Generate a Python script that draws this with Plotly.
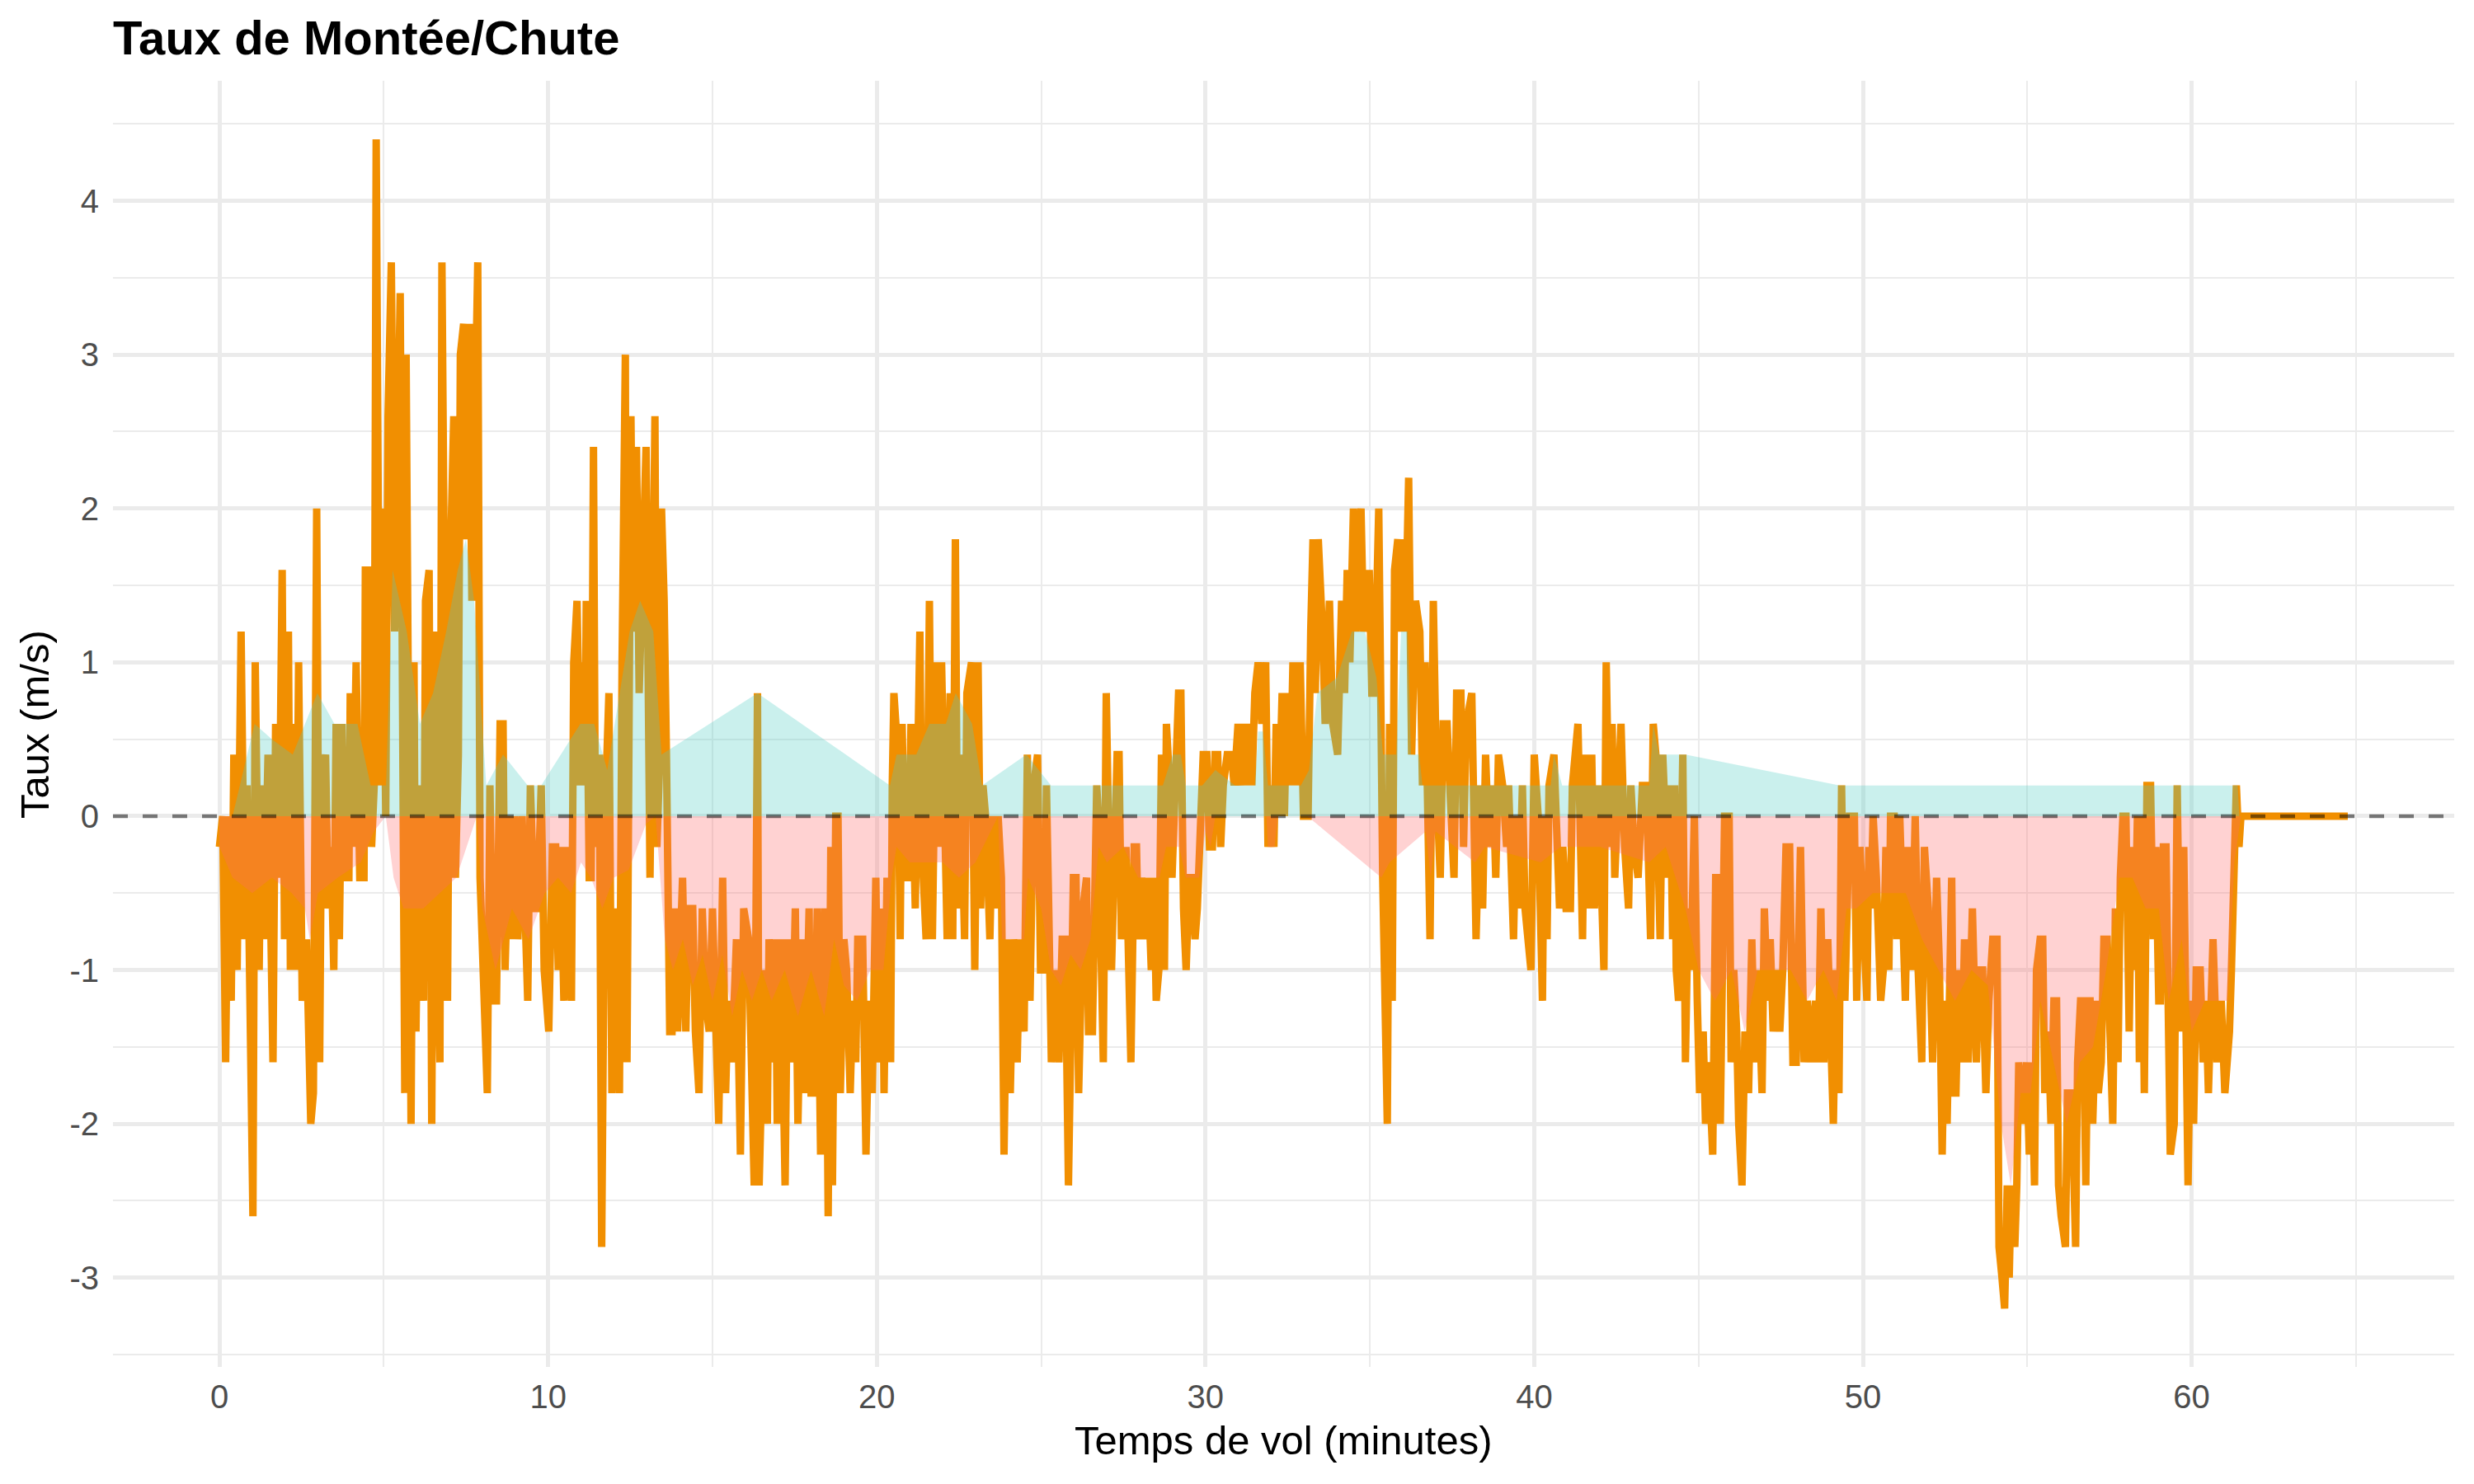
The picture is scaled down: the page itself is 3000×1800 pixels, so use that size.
import plotly.graph_objects as go

# ---- Data (time in minutes, climb/sink rate in m/s) ----
seg_00_10 = [
    (0.00, -0.2), (0.10, 0.0), (0.19, -1.6), (0.27, 0.0), (0.36, -1.2), (0.44, 0.4), (0.54, -1.0), (0.66, 1.2), (0.77, -0.8), (0.84, 0.2),
    (1.02, -2.6), (1.09, 1.0), (1.21, -1.0), (1.27, 0.2), (1.36, -0.8), (1.48, 0.4), (1.63, -1.6), (1.71, 0.6), (1.81, -0.4), (1.91, 1.6),
    (1.98, -0.8), (2.10, 1.2), (2.16, -1.0), (2.23, 0.6), (2.33, -1.0), (2.41, 1.0), (2.52, -1.2), (2.65, -0.8), (2.78, -2.0), (2.86, -1.8),
    (2.96, 2.0), (3.05, -1.6), (3.11, 0.2), (3.23, 0.4), (3.31, -0.6), (3.40, -0.2), (3.48, -1.0), (3.55, 0.6), (3.65, -0.8), (3.73, 0.6),
    (3.81, -0.4), (3.94, -0.4), (3.98, 0.8), (4.06, -0.2), (4.16, 1.0), (4.27, -0.4), (4.40, -0.4), (4.44, 1.6), (4.52, 1.6), (4.63, -0.2),
    (4.71, 0.2), (4.77, 4.4), (4.88, 0.2), (4.96, 2.0), (5.06, 0.0), (5.13, 2.6), (5.23, 3.6), (5.33, 1.2), (5.50, 3.4), (5.58, -0.8),
    (5.64, -1.8), (5.68, 3.0), (5.83, -2.0), (5.92, 1.0), (5.98, -1.4), (6.08, 0.2), (6.21, -1.2), (6.27, 1.4), (6.38, 1.6), (6.46, -2.0),
    (6.54, 1.2), (6.61, -0.6), (6.71, -1.6), (6.77, 3.6), (6.88, 0.2), (6.94, -1.2), (7.02, 1.6), (7.13, 2.6), (7.18, -0.4), (7.27, 0.4),
    (7.33, 3.0), (7.43, 3.2), (7.52, 1.8), (7.60, 3.2), (7.68, 1.4), (7.86, 3.6), (7.93, -0.4), (8.02, -1.0), (8.15, -1.8), (8.23, 0.2),
    (8.33, -1.2), (8.43, -1.2), (8.54, 0.6), (8.63, 0.6), (8.69, -1.0), (8.82, 0.0), (8.92, -0.8), (8.98, 0.0), (9.08, -0.8), (9.21, 0.0),
    (9.38, -1.2), (9.46, 0.2), (9.58, -0.6), (9.68, -0.6), (9.79, 0.2), (9.88, -1.0),
]

seg_10_20 = [
    (10.02, -1.4), (10.13, -0.2), (10.23, -0.2), (10.31, -1.0), (10.38, -0.2), (10.48, -1.2), (10.58, -0.2), (10.71, -1.2), (10.78, 1.0), (10.88, 1.4),
    (10.98, 0.2), (11.06, 1.0), (11.12, 0.2), (11.16, 1.4), (11.25, -0.4), (11.31, -0.4), (11.38, 2.4), (11.44, -0.2), (11.56, 0.4), (11.63, -2.8),
    (11.73, 0.0), (11.85, 0.8), (11.94, -1.8), (12.06, -0.6), (12.17, -1.8), (12.25, 1.0), (12.35, 3.0), (12.40, -1.6), (12.48, 1.2), (12.52, 2.6),
    (12.58, 1.2), (12.69, 2.4), (12.77, 0.8), (12.98, 2.4), (13.10, -0.4), (13.25, 2.6), (13.31, -0.2), (13.40, 0.4), (13.45, 2.0), (13.53, 1.4),
    (13.60, 0.4), (13.70, -1.4), (13.77, -1.4), (13.84, -0.6), (13.94, -1.4), (14.09, -0.4), (14.19, -1.4), (14.27, -0.6), (14.40, -0.6), (14.48, -1.4),
    (14.59, -1.8), (14.69, -0.6), (14.79, -1.2), (14.90, -1.4), (15.00, -0.6), (15.10, -1.6), (15.19, -2.0), (15.31, -0.4), (15.40, -1.8), (15.48, -1.2),
    (15.59, -1.6), (15.73, -0.8), (15.85, -2.2), (15.95, -0.6), (16.10, -0.8), (16.27, -2.4), (16.37, 0.8), (16.42, -2.4), (16.58, -1.0), (16.67, -2.0),
    (16.72, -0.8), (16.83, -1.6), (16.92, -0.8), (16.97, -2.0), (17.08, -0.8), (17.21, -2.4), (17.29, -0.8), (17.42, -1.6), (17.52, -0.6), (17.60, -2.0),
    (17.71, -0.8), (17.81, -1.8), (17.94, -0.6), (18.00, -1.8), (18.08, -1.8), (18.19, -0.6), (18.29, -2.2), (18.42, -0.6), (18.47, -1.2), (18.52, -2.6),
    (18.60, -0.2), (18.65, -2.4), (18.75, 0.0), (18.82, 0.0), (18.89, -1.8), (19.00, -0.8), (19.08, -1.0), (19.19, -1.8), (19.27, -1.2), (19.36, -1.6),
    (19.42, -0.8), (19.57, -0.8), (19.67, -2.2), (19.77, -1.2), (19.86, -1.8), (19.97, -0.4),
]

seg_20_30 = [
    (20.04, -1.6), (20.17, -0.6), (20.22, -1.8), (20.31, -0.4), (20.42, -1.6), (20.47, 0.2), (20.52, 0.8), (20.64, 0.4), (20.71, -0.8), (20.77, 0.6), (20.86, -0.4),
    (20.96, -0.4), (21.04, 0.6), (21.17, -0.6), (21.31, 1.2), (21.37, -0.2), (21.50, -0.8), (21.60, 1.4), (21.69, -0.8), (21.81, 1.0), (21.89, -0.2),
    (21.97, 1.0), (22.14, -0.8), (22.23, 0.8), (22.31, -0.8), (22.39, 1.8), (22.46, -0.6), (22.54, 0.4), (22.60, -0.4), (22.67, -0.8), (22.74, 0.8),
    (22.88, 1.0), (22.98, -1.0), (23.08, 1.0), (23.16, -0.6), (23.23, 0.2), (23.31, 0.0), (23.44, -0.8), (23.52, 0.0), (23.60, -0.6), (23.69, 0.0),
    (23.79, -0.4), (23.87, -2.2), (23.96, -0.8), (24.06, -1.8), (24.16, -0.8), (24.27, -1.6), (24.35, -0.8), (24.48, -1.4), (24.58, 0.4), (24.66, -1.2),
    (24.77, 0.2), (24.89, 0.4), (24.98, -1.0), (25.10, -1.0), (25.16, 0.2), (25.23, -0.6), (25.31, -1.6), (25.44, -1.0), (25.54, -1.6), (25.64, -0.8),
    (25.73, -0.8), (25.83, -2.4), (25.98, -0.4), (26.06, -0.4), (26.14, -1.8), (26.27, -0.6), (26.38, -0.4), (26.44, -1.4), (26.56, -1.4), (26.69, 0.2),
    (26.74, 0.0), (26.89, -1.6), (26.98, 0.8), (27.06, -0.2), (27.14, -1.0), (27.31, 0.4), (27.37, 0.4), (27.44, -0.8), (27.52, -0.6), (27.58, -0.2),
    (27.73, -1.6), (27.83, -0.2), (27.90, -0.2), (27.96, -0.8), (28.06, -0.4), (28.16, -0.8), (28.25, -0.4), (28.35, -1.0), (28.43, -0.4), (28.50, -1.2),
    (28.58, -1.0), (28.66, 0.4), (28.75, -1.0), (28.81, 0.6), (28.91, 0.2), (28.98, -0.4), (29.08, 0.2), (29.18, 0.8), (29.25, 0.8), (29.33, -0.6),
    (29.41, -1.0), (29.50, -0.4), (29.58, -0.4), (29.68, -0.8), (29.75, -0.6), (29.83, -0.2), (29.93, 0.4),
]

seg_30_40 = [
    (30.04, 0.4), (30.12, -0.2), (30.21, -0.2), (30.29, 0.4), (30.37, 0.4), (30.46, -0.2), (30.54, 0.2), (30.66, 0.4), (30.79, 0.4), (30.87, 0.2),
    (30.99, 0.6), (31.09, 0.2), (31.18, 0.6), (31.26, 0.2), (31.33, 0.6), (31.41, 0.2), (31.50, 0.8), (31.60, 1.0), (31.71, 0.6), (31.83, 1.0),
    (31.90, -0.2), (32.00, 0.2), (32.08, -0.2), (32.15, 0.6), (32.23, 0.0), (32.33, 0.8), (32.40, 0.0), (32.48, 0.8), (32.58, 0.2), (32.66, 1.0),
    (32.75, 0.2), (32.88, 1.0), (32.98, 0.0), (33.12, 0.0), (33.20, 1.2), (33.27, 1.8), (33.34, 0.8), (33.43, 1.8), (33.56, 1.2), (33.64, 0.6),
    (33.77, 1.4), (33.87, 0.6), (34.02, 0.4), (34.14, 1.4), (34.23, 0.8), (34.31, 1.6), (34.39, 1.0), (34.50, 2.0), (34.58, 1.2), (34.73, 2.0),
    (34.81, 1.2), (34.98, 1.6), (35.06, 0.8), (35.14, 0.8), (35.27, 2.0), (35.39, -0.4), (35.53, -2.0), (35.60, 0.6), (35.68, -1.2), (35.75, 1.6),
    (35.85, 1.8), (35.93, 1.2), (36.02, 1.8), (36.08, 1.2), (36.18, 2.2), (36.27, 0.4), (36.39, 1.4), (36.52, 1.2), (36.60, 0.2), (36.68, 1.0),
    (36.83, -0.8), (36.93, 1.4), (37.03, 0.2), (37.14, -0.4), (37.23, 0.6), (37.35, 0.6), (37.43, 0.2), (37.56, -0.4), (37.64, 0.8), (37.77, 0.8),
    (37.85, -0.2), (37.93, 0.6), (38.10, 0.8), (38.23, -0.8), (38.35, 0.2), (38.43, -0.6), (38.52, 0.4), (38.62, -0.2), (38.75, 0.2), (38.83, -0.4),
    (38.91, 0.4), (39.04, 0.2), (39.16, -0.2), (39.22, 0.2), (39.37, -0.8), (39.45, 0.0), (39.54, -0.6), (39.64, 0.2), (39.72, -0.6), (39.90, -1.0),
]

seg_40_50 = [
    (40.00, 0.4), (40.12, 0.0), (40.25, -1.2), (40.30, 0.0), (40.39, -0.8), (40.45, 0.2), (40.60, 0.4), (40.69, -0.2), (40.77, -0.6), (40.87, -0.2),
    (40.97, -0.6), (41.10, -0.6), (41.16, 0.2), (41.33, 0.6), (41.39, 0.0), (41.47, -0.8), (41.54, 0.4), (41.66, -0.6), (41.75, 0.4), (41.83, -0.6),
    (41.95, 0.2), (42.12, -1.0), (42.19, 1.0), (42.29, -0.2), (42.37, 0.6), (42.45, -0.4), (42.64, 0.6), (42.75, -0.2), (42.87, -0.6), (42.94, 0.2),
    (43.04, -0.2), (43.16, -0.4), (43.29, 0.2), (43.41, 0.2), (43.54, -0.8), (43.62, 0.6), (43.70, 0.4), (43.83, -0.8), (43.91, 0.4), (44.06, -0.4),
    (44.14, 0.2), (44.21, -0.8), (44.27, 0.2), (44.32, -1.0), (44.39, -1.2), (44.52, 0.4), (44.60, -1.6), (44.68, -0.6), (44.77, -1.0), (44.87, 0.0),
    (44.96, -1.2), (45.03, -1.8), (45.14, -1.4), (45.21, -2.0), (45.31, -1.6), (45.43, -2.2), (45.52, -0.4), (45.60, -0.4), (45.66, -2.0), (45.72, -1.0),
    (45.79, 0.0), (45.93, 0.0), (45.99, -1.6), (46.07, -1.0), (46.16, -1.4), (46.22, -2.0), (46.32, -2.4), (46.41, -1.4), (46.52, -1.8), (46.62, -0.8),
    (46.71, -1.6), (46.81, -1.0), (46.93, -1.8), (47.00, -0.6), (47.10, -1.2), (47.18, -0.8), (47.27, -1.4), (47.37, -1.0), (47.47, -1.4), (47.56, -1.0),
    (47.66, -0.2), (47.77, -0.2), (47.87, -1.6), (47.97, -1.6), (48.10, -0.2), (48.21, -1.6), (48.31, -1.2), (48.43, -1.6), (48.56, -1.2), (48.64, -1.6),
    (48.72, -0.6), (48.81, -1.6), (48.93, -0.8), (49.10, -2.0), (49.18, -1.0), (49.27, -1.8), (49.35, 0.2), (49.45, -1.2), (49.54, -0.6), (49.59, 0.0),
    (49.74, 0.0), (49.81, -1.2), (49.91, -0.2),
]

seg_50_65 = [
    (50.04, -1.0), (50.12, -1.2), (50.18, -0.2), (50.24, -0.6), (50.31, 0.0), (50.41, -0.4), (50.54, -1.2), (50.62, -1.0), (50.70, -0.2), (50.79, -1.0),
    (50.84, 0.0), (50.95, 0.0), (51.03, -0.8), (51.12, 0.0), (51.29, -1.2), (51.37, -0.2), (51.49, -1.0), (51.59, 0.0), (51.68, -1.0), (51.79, -1.6),
    (51.87, -0.2), (51.99, -0.6), (52.12, -1.6), (52.24, -0.4), (52.33, -1.0), (52.41, -2.2), (52.49, -1.2), (52.56, -2.0), (52.70, -0.4), (52.76, -1.8),
    (52.83, -1.8), (52.91, -1.0), (53.01, -1.6), (53.09, -0.8), (53.20, -1.6), (53.33, -0.6), (53.45, -1.6), (53.54, -1.0), (53.64, -1.0), (53.74, -1.8),
    (53.83, -1.2), (53.95, -0.8), (54.08, -0.8), (54.14, -2.8), (54.23, -3.0), (54.31, -3.2), (54.39, -2.4), (54.45, -3.0), (54.51, -2.4), (54.62, -2.8),
    (54.68, -2.4), (54.74, -1.6), (54.87, -2.0), (54.98, -1.6), (55.06, -2.2), (55.14, -1.6), (55.22, -2.4), (55.28, -1.0), (55.39, -0.8), (55.47, -0.8),
    (55.53, -1.8), (55.64, -1.4), (55.72, -2.0), (55.81, -1.2), (55.89, -1.2), (55.95, -2.4), (56.03, -2.6), (56.16, -2.8), (56.22, -1.8), (56.35, -1.8),
    (56.47, -2.8), (56.53, -1.6), (56.62, -1.2), (56.70, -1.2), (56.78, -2.4), (56.85, -1.2), (56.91, -1.2), (56.99, -2.0), (57.10, -1.2), (57.16, -1.8),
    (57.25, -1.6), (57.33, -0.8), (57.43, -0.8), (57.51, -1.4), (57.60, -2.0), (57.68, -0.6), (57.76, -1.6), (57.83, -0.4), (57.91, 0.0), (58.00, 0.0),
    (58.10, -1.4), (58.18, -0.2), (58.26, -1.0), (58.35, 0.0), (58.41, -1.6), (58.47, 0.0), (58.56, -1.8), (58.64, 0.2), (58.75, 0.2), (58.83, -0.8),
    (58.91, -0.2), (59.00, -1.2), (59.05, -1.2), (59.14, -0.2), (59.22, -0.2), (59.35, -2.2), (59.47, -2.0), (59.56, 0.2), (59.66, -1.4), (59.76, -0.2),
    (59.89, -2.4), (59.97, -1.2), (60.06, -2.0), (60.14, -1.0), (60.26, -1.0), (60.35, -1.6), (60.43, -1.2), (60.51, -1.8), (60.65, -0.8), (60.77, -1.6),
    (60.90, -1.2), (61.01, -1.8), (61.15, -1.4), (61.21, -1.0), (61.27, -0.4), (61.36, 0.2), (61.44, -0.2), (61.50, 0.0), (62.00, 0.0), (62.50, 0.0),
    (63.00, 0.0), (63.50, 0.0), (64.00, 0.0), (64.50, 0.0), (64.75, 0.0),
]

# Shaded climb area (teal): (time, upper edge)
aire_montee = [
    (0.40, 0.0), (1.07, 0.6), (1.60, 0.5), (2.23, 0.4), (2.98, 0.8), (3.50, 0.6), (4.20, 0.6), (4.60, 0.2), (5.07, 0.2), (5.27, 1.6),
    (5.70, 1.2), (6.10, 0.6), (6.50, 0.8), (6.90, 1.2), (7.25, 1.6), (7.50, 1.8), (7.75, 1.4), (8.12, 0.2), (8.63, 0.4), (9.38, 0.2),
    (9.79, 0.2), (10.98, 0.6), (11.40, 0.6), (11.80, 0.3), (12.48, 1.2), (12.80, 1.4), (13.20, 1.2), (13.45, 0.4), (16.37, 0.8), (20.40, 0.2),
    (20.60, 0.4), (21.20, 0.4), (21.60, 0.6), (22.10, 0.6), (22.40, 0.8), (22.90, 0.6), (23.20, 0.2), (24.55, 0.4), (25.30, 0.2), (26.80, 0.2),
    (28.70, 0.2), (29.00, 0.4), (29.25, 0.4), (29.40, 0.2), (29.90, 0.2), (30.30, 0.3), (30.90, 0.2), (31.50, 0.2), (31.60, 0.55), (31.75, 0.55),
    (31.90, 0.2), (32.90, 0.2), (33.15, 0.3), (33.40, 0.8), (34.00, 0.9), (34.45, 1.2), (34.85, 1.2), (35.20, 0.9), (35.40, 0.4), (35.80, 0.4),
    (35.95, 1.2), (36.15, 1.2), (36.25, 0.4), (36.50, 0.4), (36.60, 0.2), (40.50, 0.2), (40.60, 0.4), (40.85, 0.2), (43.50, 0.2), (43.62, 0.6),
    (43.80, 0.4), (44.60, 0.4), (49.30, 0.2), (61.40, 0.2), (61.45, 0.0),
]

# Shaded sink area (pink): (time, lower edge)
aire_chute = [
    (0.00, -0.2), (0.40, -0.4), (1.00, -0.5), (1.60, -0.4), (2.20, -0.5), (2.60, -0.6), (2.75, -0.8), (3.00, -0.5), (3.60, -0.4), (4.30, -0.3),
    (4.70, -0.1), (5.06, 0.0), (5.30, -0.4), (5.60, -0.6), (6.20, -0.6), (6.70, -0.5), (7.21, -0.4), (7.83, 0.0), (8.00, -0.6), (8.40, -1.0),
    (8.90, -0.6), (9.40, -0.8), (9.90, -0.5), (10.30, -0.4), (10.70, -0.5), (11.00, -0.3), (11.30, -0.4), (11.65, -0.6), (12.00, -0.4), (12.45, -0.35),
    (12.98, -0.05), (13.27, 0.0), (13.55, -0.8), (13.80, -1.0), (14.10, -0.8), (14.40, -1.1), (14.70, -0.9), (15.00, -1.2), (15.30, -0.9), (15.60, -1.3),
    (15.90, -1.0), (16.20, -1.2), (16.50, -1.0), (16.80, -1.2), (17.20, -1.0), (17.60, -1.3), (18.00, -1.0), (18.40, -1.3), (18.70, -0.8), (19.00, -1.1),
    (19.40, -1.2), (19.80, -1.0), (20.20, -1.0), (20.45, -0.4), (20.60, -0.2), (21.00, -0.3), (21.50, -0.3), (22.00, -0.3), (22.50, -0.4), (23.00, -0.3),
    (23.69, 0.0), (23.81, -0.8), (24.48, -0.8), (24.60, -0.4), (25.00, -0.6), (25.30, -1.0), (25.60, -1.1), (25.90, -0.9), (26.20, -1.0), (26.50, -0.8),
    (26.75, -0.2), (27.00, -0.3), (27.50, -0.2), (27.95, -0.4), (28.60, -0.4), (28.80, -0.2), (29.20, -0.2), (29.40, -0.4), (29.80, -0.4), (30.00, -0.1),
    (30.15, -0.2), (30.30, 0.0), (31.85, 0.0), (31.90, -0.2), (32.10, -0.2), (32.20, 0.0), (33.10, 0.0), (35.35, -0.4), (35.60, -0.3), (36.70, -0.1),
    (36.85, -0.4), (37.00, -0.1), (38.20, -0.3), (38.50, -0.2), (40.20, -0.3), (40.80, -0.2), (41.10, -0.2), (42.00, -0.2), (43.50, -0.3), (44.00, -0.2),
    (44.60, -0.6), (45.00, -1.0), (45.50, -1.2), (46.00, -1.0), (46.40, -1.4), (46.80, -1.0), (47.30, -1.0), (47.80, -1.0), (48.30, -1.2), (48.80, -1.0),
    (49.20, -1.2), (49.50, -0.6), (49.80, -0.6), (50.30, -0.5), (50.80, -0.5), (51.30, -0.5), (51.80, -0.8), (52.30, -1.0), (52.80, -1.2), (53.30, -1.0),
    (53.80, -1.1), (54.20, -2.0), (54.50, -2.4), (54.80, -1.8), (55.10, -1.8), (55.40, -1.2), (55.80, -1.6), (56.20, -2.0), (56.60, -1.6), (57.00, -1.5),
    (57.40, -1.0), (57.80, -0.4), (58.20, -0.4), (58.60, -0.6), (59.00, -0.6), (59.30, -1.2), (59.70, -0.8), (60.00, -1.4), (60.40, -1.2), (60.80, -1.2),
    (61.10, -1.2), (61.30, -0.3), (61.50, 0.0),
]

x_ticks = [0, 10, 20, 30, 40, 50, 60]
y_ticks = [-3, -2, -1, 0, 1, 2, 3, 4]
y_tick_labels = ["-3", "-2", "-1", "0", "1", "2", "3", "4"]

title_text = "Taux de Montée/Chute"
x_title = "Temps de vol (minutes)"
y_title = "Taux (m/s)"

# ---- Build series ----
points = seg_00_10 + seg_10_20 + seg_20_30 + seg_30_40 + seg_40_50 + seg_50_65
temps = [p[0] for p in points]
taux = [p[1] for p in points]

FONT = "Liberation Sans, Arial, Helvetica, sans-serif"
ORANGE = "#F18F01"
GRID = "#EBEBEB"

fig = go.Figure()
fig.add_trace(go.Scatter(
    x=temps, y=taux, mode="lines",
    line=dict(color=ORANGE, width=9),
    hoverinfo="skip", showlegend=False,
))
fig.add_trace(go.Scatter(
    x=[p[0] for p in aire_montee], y=[p[1] for p in aire_montee],
    mode="lines", line=dict(width=0),
    fill="tozeroy", fillcolor="rgba(78,205,196,0.3)",
    hoverinfo="skip", showlegend=False,
))
fig.add_trace(go.Scatter(
    x=[p[0] for p in aire_chute], y=[p[1] for p in aire_chute],
    mode="lines", line=dict(width=0),
    fill="tozeroy", fillcolor="rgba(255,107,107,0.3)",
    hoverinfo="skip", showlegend=False,
))

x_min, x_max = min(temps), max(temps)
y_min, y_max = min(taux), max(taux)
xpad = (x_max - x_min) * 0.05
ypad = (y_max - y_min) * 0.05

fig.add_shape(
    type="line", xref="paper", x0=0, x1=1, yref="y", y0=0, y1=0,
    line=dict(color="rgba(0,0,0,0.5)", width=4.4, dash="18px,18px"),
    layer="above",
)

fig.update_layout(
    width=3000, height=1800, autosize=False,
    margin=dict(l=137, r=24, t=98, b=142),
    paper_bgcolor="white", plot_bgcolor="white",
    font=dict(family=FONT, color="#000000"),
    title=dict(
        text="<b>" + title_text + "</b>",
        font=dict(family=FONT, size=58, color="#000000"),
        x=0, xref="paper", xanchor="left",
        y=1 - 46 / 1800, yref="container", yanchor="middle",
    ),
    xaxis=dict(
        range=[x_min - xpad, x_max + xpad],
        tickmode="array", tickvals=x_ticks,
        showgrid=True, gridcolor=GRID, gridwidth=4.8,
        zeroline=False, showline=False,
        ticks="outside", ticklen=1, tickcolor="rgba(0,0,0,0)",
        tickfont=dict(family=FONT, size=40, color="#4D4D4D"),
        minor=dict(tickvals=[5, 15, 25, 35, 45, 55, 65], showgrid=True,
                   gridcolor=GRID, gridwidth=2.4, ticks=""),
    ),
    yaxis=dict(
        range=[y_min - ypad, y_max + ypad],
        tickmode="array", tickvals=y_ticks, ticktext=y_tick_labels,
        showgrid=True, gridcolor=GRID, gridwidth=4.8,
        zeroline=False, showline=False,
        ticks="outside", ticklen=8, tickcolor="rgba(0,0,0,0)",
        tickfont=dict(family=FONT, size=40, color="#4D4D4D"),
        minor=dict(tickvals=[-3.5, -2.5, -1.5, -0.5, 0.5, 1.5, 2.5, 3.5, 4.5],
                   showgrid=True, gridcolor=GRID, gridwidth=2.4, ticks=""),
    ),
    annotations=[
        dict(text=x_title, xref="paper", yref="paper", x=0.5, y=-0.057,
             xanchor="center", yanchor="middle", showarrow=False,
             font=dict(family=FONT, size=49, color="#000000")),
        dict(text=y_title, xref="paper", yref="paper", x=-0.0335, y=0.5,
             xanchor="center", yanchor="middle", showarrow=False, textangle=-90,
             font=dict(family=FONT, size=49, color="#000000")),
    ],
)

fig.write_html("out.html", config={"displayModeBar": False},
               post_script="document.body.style.margin='0';")
